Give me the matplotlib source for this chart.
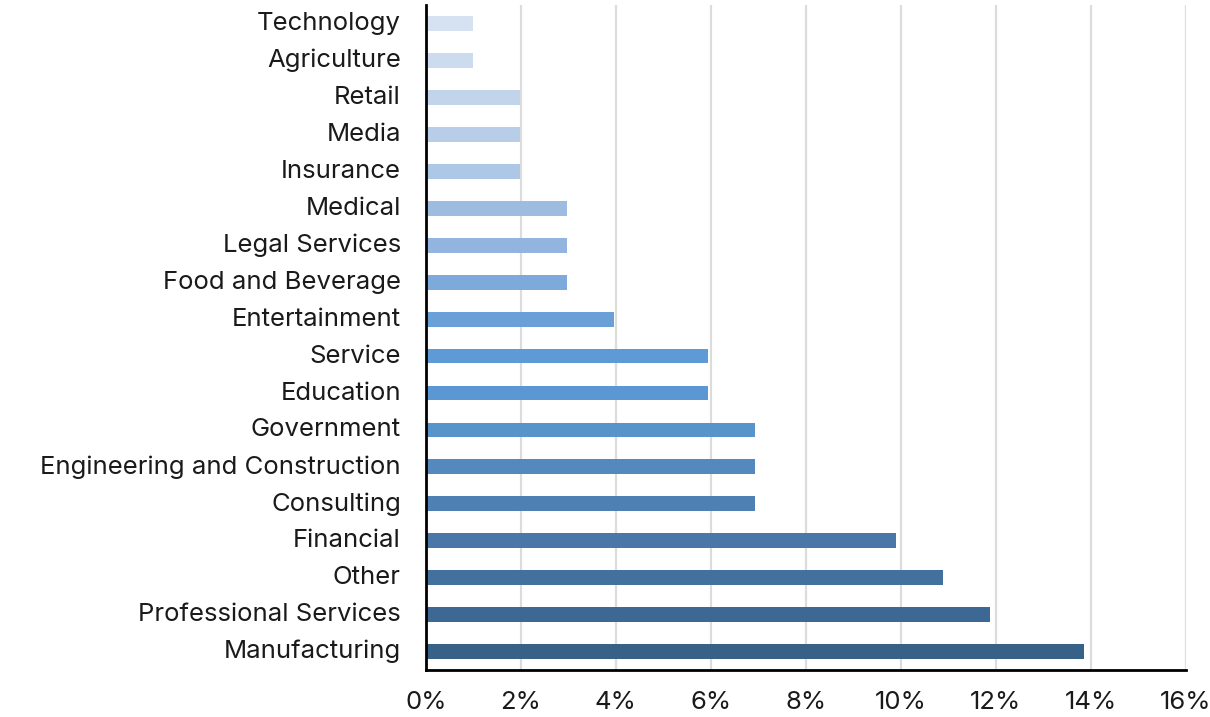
import matplotlib
matplotlib.use("Agg")
import matplotlib.pyplot as plt
from matplotlib.ticker import FuncFormatter
import numpy as np

# industries, from the top of the chart down
industries = [
    "Technology", "Agriculture", "Retail", "Media", "Insurance", "Medical",
    "Legal Services", "Food and Beverage", "Entertainment", "Service",
    "Education", "Government", "Engineering and Construction", "Consulting",
    "Financial", "Other", "Professional Services", "Manufacturing",
]
# respondent counts per industry (101 in total)
counts = [1, 1, 2, 2, 2, 3, 3, 3, 4, 6, 6, 7, 7, 7, 10, 11, 12, 14]
shares = [c / sum(counts) * 100 for c in counts]

bar_colors = [
    "#d6e1f1", "#cddbee", "#c2d4ea", "#b8cde8", "#adc7e6", "#9dbce0",
    "#93b4de", "#7da9db", "#6aa0d8", "#5e9ad5", "#5b98d3", "#5893c9",
    "#5489bd", "#4f80b3", "#4a77a8", "#44709e", "#3d6893", "#376186",
]

plt.rcParams["font.family"] = ["Inter", "DejaVu Sans"]

fig = plt.figure(figsize=(12.1, 7.17), dpi=100)
ax = fig.add_axes([0.352, 0.0656, 0.628, 0.927])

y = np.arange(len(industries))
ax.barh(y, shares, height=0.4, color=bar_colors, zorder=3)

ax.set_ylim(len(industries) - 0.5, -0.5)
ax.set_xlim(0, 16)
ax.set_xticks(np.arange(0, 17, 2))
ax.xaxis.set_major_formatter(FuncFormatter(lambda v, _: f"{v:.0f}%"))
ax.set_yticks(y)
ax.set_yticklabels(industries)

ax.grid(axis="x", color="#dcdcdc", linewidth=1.6, zorder=0)
ax.tick_params(length=0, labelsize=18.5, colors="#1a1a1a")
ax.tick_params(axis="x", pad=15)
ax.tick_params(axis="y", pad=18)
for lbl in ax.get_yticklabels():
    lbl.set_verticalalignment("center")

for side in ("top", "right"):
    ax.spines[side].set_visible(False)
for side in ("left", "bottom"):
    ax.spines[side].set_linewidth(2)
    ax.spines[side].set_color("black")
    ax.spines[side].set_zorder(4)

fig.savefig("out.png", dpi=100)
